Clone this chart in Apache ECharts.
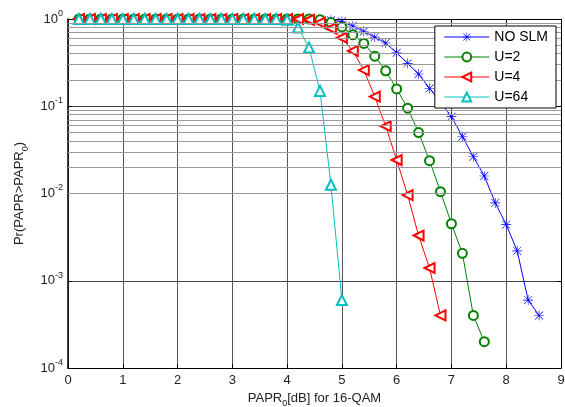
<!DOCTYPE html>
<html>
<head>
<meta charset="utf-8">
<script src="https://cdn.jsdelivr.net/npm/echarts@6/dist/echarts.min.js"></script>
<style>
  html, body { margin: 0; padding: 0; background: #fff; }
  #chart { width: 565px; height: 407px; }
</style>
</head>
<body>
<div id="chart"></div>
<script>
// PAPR0 grid (dB), step 0.2
var papr0 = [0.2, 0.4, 0.6, 0.8, 1.0, 1.2, 1.4, 1.6, 1.8, 2.0,
             2.2, 2.4, 2.6, 2.8, 3.0, 3.2, 3.4, 3.6, 3.8, 4.0,
             4.2, 4.4, 4.6, 4.8, 5.0, 5.2, 5.4, 5.6, 5.8, 6.0,
             6.2, 6.4, 6.6, 6.8, 7.0, 7.2, 7.4, 7.6, 7.8, 8.0,
             8.2, 8.4, 8.6];

var ccdfNoSlm = [1, 1, 1, 1, 1, 1, 1, 1, 1, 1,
                 1, 1, 1, 1, 1, 1, 1, 1, 1, 1,
                 1, 1, 0.99, 0.97, 0.935, 0.83, 0.72, 0.62, 0.53, 0.41,
                 0.31, 0.234, 0.16, 0.112, 0.076, 0.045, 0.0264, 0.0159, 0.0078, 0.0044,
                 0.0022, 0.0006, 0.0004];
var ccdfU2 = [1, 1, 1, 1, 1, 1, 1, 1, 1, 1,
              1, 1, 1, 1, 1, 1, 1, 1, 1, 1,
              1, 1, 0.98, 0.91, 0.81, 0.66, 0.525, 0.375, 0.255, 0.158,
              0.095, 0.05, 0.0238, 0.0105, 0.0045, 0.00206, 0.0004, 0.0002];
var ccdfU4 = [1, 1, 1, 1, 1, 1, 1, 1, 1, 1,
              1, 1, 1, 1, 1, 1, 1, 1, 1, 1,
              1, 0.98, 0.91, 0.78, 0.61, 0.43, 0.26, 0.129, 0.059, 0.0242,
              0.0096, 0.0033, 0.0014, 0.0004];
var ccdfU64 = [1, 1, 1, 1, 1, 1, 1, 1, 1, 1,
               1, 1, 1, 1, 1, 1, 1, 1, 1, 0.98,
               0.8, 0.47, 0.15, 0.0126, 0.0006];

var seriesNames = ['NO SLM', 'U=2', 'U=4', 'U=64'];
var xTicks = [0, 1, 2, 3, 4, 5, 6, 7, 8, 9];

var FONT = '"Liberation Sans", Arial, sans-serif';
var asterisk = 'path://M0,9.4L20,9.4L20,10.6L0,10.6Z M9.4,0L10.6,0L10.6,20L9.4,20Z ' +
               'M2.5,1.6L18.4,17.5L17.5,18.4L1.6,2.5Z M17.5,1.6L18.4,2.5L2.5,18.4L1.6,17.5Z';

function pairs(ys) {
    var out = [];
    for (var i = 0; i < ys.length; i++) out.push([papr0[i], ys[i]]);
    return out;
}

// minor log gridlines 2..9 x 10^k
var minorLines = [];
for (var k = -4; k < 0; k++) {
    for (var m = 2; m <= 9; m++) {
        minorLines.push({ yAxis: m * Math.pow(10, k) });
    }
}

var myChart = echarts.init(document.getElementById('chart'), null, { renderer: 'canvas' });

function lineSeries(name, ys, color, symbol, size, rotate) {
    return {
        name: name,
        type: 'line',
        data: pairs(ys),
        symbol: symbol,
        symbolSize: size,
        symbolRotate: rotate || 0,
        showAllSymbol: true,
        lineStyle: { color: color, width: 1 },
        itemStyle: { color: color, borderWidth: 0.9 },
        emphasis: { disabled: true },
        z: 3
    };
}

var option = {
    animation: false,
    backgroundColor: '#fff',
    textStyle: { fontFamily: FONT },
    grid: { left: 68, right: 4, top: 19, bottom: 39, outerBoundsMode: 'none' },
    legend: {
        data: seriesNames,
        orient: 'vertical',
        right: 9,
        top: 26,
        padding: [4, 8, 4, 9],
        itemGap: 6,
        itemWidth: 45,
        itemHeight: 11,
        backgroundColor: '#fff',
        borderColor: '#000',
        borderWidth: 1,
        borderRadius: 0,
        lineStyle: { width: 1 },
        itemStyle: { borderWidth: 1 },
        textStyle: { fontFamily: FONT, fontSize: 14, color: '#000' },
        z: 10
    },
    xAxis: [{
        type: 'value',
        min: 0, max: 9, interval: 1,
        name: '{a|PAPR}{s|0}{a|[dB] for 16-QAM}',
        nameLocation: 'middle',
        nameGap: 20,
        nameTextStyle: {
            rich: {
                a: { fontFamily: FONT, fontSize: 13, color: '#222', lineHeight: 20 },
                s: { fontFamily: FONT, fontSize: 9, color: '#222', lineHeight: 10, verticalAlign: 'bottom' }
            }
        },
        axisLine: { show: true, onZero: false, lineStyle: { color: '#000', width: 1 } },
        axisTick: { show: true, inside: true, length: 4, lineStyle: { color: '#000' } },
        axisLabel: {
            margin: 6, fontFamily: FONT, fontSize: 13, color: '#222',
            formatter: function (v) { return xTicks.indexOf(v) >= 0 ? String(v) : ''; }
        },
        splitLine: { show: true, lineStyle: { color: '#555', width: 1 } }
    }, {
        type: 'value', position: 'top',
        min: 0, max: 9, interval: 1,
        axisLine: { show: true, onZero: false, lineStyle: { color: '#000', width: 1 } },
        axisTick: { show: true, inside: true, length: 4, lineStyle: { color: '#000' } },
        axisLabel: { show: false },
        splitLine: { show: false }
    }],
    yAxis: [{
        type: 'log',
        logBase: 10,
        min: 0.0001, max: 1,
        interval: 1,
        name: '{a|Pr(PAPR>PAPR}{s|0}{a|)}',
        nameLocation: 'middle',
        nameGap: 38,
        nameRotate: 90,
        nameTextStyle: {
            rich: {
                a: { fontFamily: FONT, fontSize: 13, color: '#222', lineHeight: 20 },
                s: { fontFamily: FONT, fontSize: 9, color: '#222', lineHeight: 10, verticalAlign: 'bottom' }
            }
        },
        axisLine: { show: true, onZero: false, lineStyle: { color: '#000', width: 1.5 } },
        axisTick: { show: true, inside: true, length: 4, lineStyle: { color: '#000' } },
        axisLabel: {
            margin: 5,
            formatter: function (v) {
                var e = Math.round(Math.log10(v));
                return '{b|10}{e|' + e + '}';
            },
            rich: {
                b: { fontFamily: FONT, fontSize: 13, color: '#222', lineHeight: 20 },
                e: { fontFamily: FONT, fontSize: 9, color: '#222', lineHeight: 10, verticalAlign: 'top' }
            }
        },
        splitLine: { show: true, lineStyle: { color: '#444', width: 1 } }
    }, {
        type: 'log',
        logBase: 10,
        min: 0.0001, max: 1,
        interval: 1,
        position: 'right',
        axisLine: { show: true, onZero: false, lineStyle: { color: '#000', width: 1 } },
        axisTick: { show: true, inside: true, length: 4, lineStyle: { color: '#000' } },
        axisLabel: { show: false },
        splitLine: { show: false }
    }],
    series: [
        {
            name: '_minor',
            type: 'line',
            data: [],
            silent: true,
            markLine: {
                silent: true,
                symbol: 'none',
                label: { show: false },
                lineStyle: { color: '#9a9a9a', width: 1, type: 'solid' },
                emphasis: { disabled: true },
                data: minorLines
            },
            z: 1
        },
        lineSeries(seriesNames[0], ccdfNoSlm, '#0000ff', asterisk, 10, 0),
        lineSeries(seriesNames[1], ccdfU2, '#008000', 'emptyCircle', 9, 0),
        lineSeries(seriesNames[2], ccdfU4, '#ff0000', 'emptyTriangle', 10, 90),
        lineSeries(seriesNames[3], ccdfU64, '#00bfbf', 'emptyTriangle', 10, 0)
    ]
};

myChart.setOption(option);
</script>
</body>
</html>
